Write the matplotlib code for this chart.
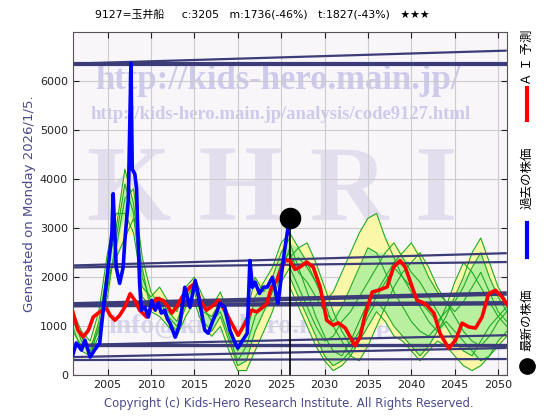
import numpy as np
import matplotlib
matplotlib.use("Agg")
import matplotlib.pyplot as plt
from matplotlib.lines import Line2D

# past price (blue)
past_x = [2001.0, 2001.4, 2002.0, 2002.4, 2003.0, 2003.5, 2004.1, 2004.5, 2005.0, 2005.5,
          2005.65, 2006.0, 2006.4, 2006.8, 2007.0, 2007.4, 2007.7, 2007.85, 2008.15, 2008.35,
          2008.5, 2008.7, 2008.9, 2009.3, 2009.7, 2010.1, 2010.5, 2010.85, 2011.2, 2011.6,
          2011.9, 2012.2, 2012.8, 2013.35, 2013.9, 2014.5, 2015.1, 2015.65, 2016.2, 2016.6,
          2017.15, 2017.6, 2017.95, 2018.5, 2018.8, 2019.1, 2019.6, 2020.0, 2020.5, 2021.1,
          2021.4, 2021.7, 2022.0, 2022.5, 2023.0, 2023.4, 2024.0, 2024.3, 2024.65, 2025.1,
          2025.45, 2025.8, 2026.0]
past_y = [415, 660, 517, 720, 375, 517, 660, 1330, 2080, 2890,
          3700, 2200, 1875, 2200, 2750, 3600, 6360, 4200, 4100, 3800,
          2890, 1875, 1330, 1390, 1190, 1530, 1330, 1470, 1270, 1330,
          1150, 1065, 780, 1065, 1795, 1390, 1935, 1470, 920, 860,
          1125, 1300, 1470, 1390, 1150, 920, 700, 560, 700, 860,
          2340, 1795, 1900, 1670, 1800, 1800, 2000, 1750, 1470, 2140,
          2610, 3010, 3050]

# AI forecast (red)
ai_x = [2001.0, 2001.6, 2002.2, 2002.8, 2003.35, 2004.1, 2004.9, 2005.3, 2005.85, 2006.4,
        2007.0, 2007.6, 2008.15, 2008.7, 2009.5, 2010.1, 2010.65, 2011.4, 2012.0, 2012.4,
        2012.95, 2013.7, 2014.5, 2015.1, 2015.65, 2016.4, 2017.2, 2017.75, 2018.5, 2019.3,
        2020.05, 2020.85, 2021.6, 2022.2, 2022.75, 2023.35, 2023.9, 2024.5, 2025.1, 2025.45,
        2026.0, 2026.6, 2027.1, 2027.95, 2028.7, 2029.5, 2030.25, 2031.0, 2031.6, 2032.4,
        2032.95, 2033.5, 2034.1, 2034.7, 2035.5, 2036.2, 2037.2, 2037.95, 2038.7, 2039.3,
        2040.1, 2040.65, 2041.2, 2041.8, 2042.6, 2043.3, 2044.3, 2045.1, 2045.85, 2046.6,
        2047.4, 2048.15, 2048.9, 2049.7, 2050.45, 2051.0]
ai_y = [1295, 920, 785, 920, 1190, 1295, 1360, 1225, 1125, 1225,
        1395, 1665, 1530, 1330, 1190, 1395, 1570, 1530, 1395, 1270,
        1395, 1630, 1800, 1875, 1530, 1330, 1430, 1530, 1330, 1060,
        820, 1060, 1330, 1295, 1370, 1465, 1800, 1935, 2205, 2340,
        2340, 2160, 2200, 2310, 2205, 1800, 1125, 1025, 1070, 965,
        785, 605, 785, 1260, 1700, 1735, 1800, 2205, 2340, 2205,
        1800, 1530, 1495, 1430, 1270, 860, 550, 720, 1065, 990,
        965, 1190, 1665, 1735, 1600, 1450]

latest_x, latest_y = 2026.0, 3205

# back-test simulation paths (green), yearly 2001..2026
hist_years = list(range(2001, 2027))
hist_paths = [
    [1200, 700, 500, 1100, 2200, 3000, 4200, 3500, 2000, 1500, 1600, 1300, 1100,
     1600, 1800, 1300, 1200, 1500, 1000, 500, 800, 1600, 1900, 2200, 2700, 2900],
    [1000, 500, 400, 800, 1800, 2600, 3600, 3800, 2400, 1700, 1400, 1100, 900,
     1400, 1700, 1100, 900, 1200, 700, 200, 300, 900, 1300, 1700, 2300, 2500],
    [1300, 900, 700, 1300, 2500, 3300, 3300, 2900, 1800, 1600, 1800, 1500, 1300,
     1800, 2000, 1600, 1400, 1700, 1200, 800, 1200, 2000, 1700, 2000, 2500, 2800],
    [900, 600, 600, 900, 2000, 2400, 2800, 3200, 2200, 1300, 1200, 1000, 800,
     1200, 1500, 1000, 800, 1000, 500, 100, 100, 500, 900, 1300, 1900, 2200],
    [1100, 800, 400, 1000, 1600, 2800, 3900, 3300, 1600, 1400, 1500, 1200, 1000,
     1500, 1900, 1400, 1100, 1300, 800, 300, 600, 1200, 1500, 1500, 2100, 2600],
]

# future simulation paths (green), yearly 2026..2051
fut_years = list(range(2026, 2052))
fut_paths = [
    [2900, 2600, 2300, 1900, 1500, 1700, 2100, 2500, 2900, 3200, 3300, 2800, 2400,
     2000, 1800, 1500, 1300, 1100, 1300, 1500, 1800, 2200, 2500, 2000, 1600, 1300],
    [2700, 2200, 1700, 1200, 800, 500, 400, 700, 1100, 1500, 1700, 2000, 2300,
     2500, 2700, 2400, 2000, 1700, 1500, 1200, 900, 700, 600, 800, 1100, 1300],
    [2400, 2600, 2700, 2300, 1800, 1300, 900, 600, 900, 1300, 1600, 1900, 2200,
     2000, 1700, 1400, 1100, 900, 1200, 1600, 2000, 2500, 2800, 2300, 1800, 1500],
    [2000, 1600, 1200, 800, 400, 200, 300, 500, 800, 1200, 1500, 1300, 1000,
     800, 600, 400, 600, 900, 1100, 900, 700, 500, 300, 400, 700, 900],
    [2500, 2100, 1900, 1600, 1300, 1100, 1400, 1800, 2200, 2600, 2500, 2100, 1700,
     1400, 1100, 900, 800, 1000, 1400, 1900, 2300, 2100, 1800, 1500, 1200, 1000],
    [2200, 1800, 1400, 1000, 700, 800, 1100, 1300, 1600, 1900, 2200, 2500, 2700,
     2400, 2100, 1900, 1600, 1300, 1000, 700, 500, 400, 700, 1000, 1200, 1400],
    [2300, 2400, 2200, 1900, 1500, 1000, 700, 400, 300, 600, 1000, 1400, 1800,
     2100, 2300, 2500, 2200, 1800, 1500, 1300, 1500, 1800, 2100, 1700, 1300, 1100],
    [1800, 1400, 1000, 600, 300, 100, 200, 400, 700, 1000, 1300, 1100, 800,
     700, 500, 300, 500, 700, 600, 400, 200, 100, 200, 400, 600, 800],
]

# support / resistance lines: value at 2001 and at 2051
trend_left = [6350, 6350, 2240, 2200, 1450, 1430, 620, 620, 375, 315]
trend_right = [6350, 6615, 2490, 2310, 1670, 1470, 820, 620, 560, 335]
trend_width = [3.0, 1.6, 1.6, 1.6, 3.2, 3.2, 1.6, 2.4, 1.6, 1.6]

title = "9127=玉井船     c:3205   m:1736(-46%)   t:1827(-43%)   ★★★"
x_ticks = [2005, 2010, 2015, 2020, 2025, 2030, 2035, 2040, 2045, 2050]
y_ticks = [0, 1000, 2000, 3000, 4000, 5000, 6000]

fig = plt.figure(figsize=(5.6, 4.2), dpi=100)
ax = fig.add_axes([0.130, 0.106, 0.775, 0.8185])
ax.set_facecolor("#f9f6fa")
ax.set_xlim(2001, 2051)
ax.set_ylim(0, 7000)

# watermarks
wm = "#cdcaec"
ax.text(2003.6, 6000, "http://kids-hero.main.jp/", family="Liberation Serif",
        weight="bold", fontsize=25, color=wm, va="center", zorder=0)
ax.text(2003.0, 5320, "http://kids-hero.main.jp/analysis/code9127.html",
        family="Liberation Serif", weight="bold", fontsize=13.4, color=wm,
        va="center", zorder=0)
ax.text(2024, 3700, "K H R I", family="Liberation Serif", weight="bold",
        fontsize=78, color="#e2deee", ha="center", va="center", zorder=0)
ax.text(2005.1, 1000, "info@kids-hero.main.jp", family="Liberation Serif",
        weight="bold", fontsize=20, color="#d6d3ee", va="center", zorder=0)

ax.grid(True, color="#cccccc", lw=0.8, zorder=0.5)
ax.set_axisbelow(True)

for years, paths in ((hist_years, hist_paths), (fut_years, fut_paths)):
    arr = np.array(paths, dtype=float)
    srt = np.sort(arr, axis=0)
    ax.fill_between(years, srt[0], srt[-1], color="#fbf7a8", lw=0, zorder=1)
    ax.fill_between(years, srt[1], srt[-2], color="#b8f0a0", lw=0, zorder=1.1)
    for p in paths:
        ax.plot(years, p, color="#22aa22", lw=0.8, zorder=1.5)

for yl, yr, w in zip(trend_left, trend_right, trend_width):
    ax.plot([2001, 2051], [yl, yr], color="#3c3c78", lw=w, zorder=2,
            solid_capstyle="butt")

ax.plot([latest_x, latest_x], [0, latest_y], color="black", lw=1.2, zorder=3)
ax.plot(ai_x, ai_y, color="#ff0000", lw=2.6, zorder=4)
ax.plot(past_x, past_y, color="#0000ff", lw=2.6, zorder=5)
ax.plot([latest_x], [latest_y], "o", color="black", ms=14.5, zorder=6)

ax.set_xticks(x_ticks)
ax.set_yticks(y_ticks)
ax.tick_params(direction="in", length=4, top=True, right=True, labelsize=8,
               colors="#222222")
for s in ax.spines.values():
    s.set_color("#555555")
    s.set_linewidth(0.8)

fam = ["DejaVu Sans", "Noto Sans CJK JP"]
fig.text(0.468, 0.966, title, ha="center", va="center", fontsize=7.8, family=fam)
fig.text(0.052, 0.515, "Generated on Monday 2026/1/5.", rotation=90,
         ha="center", va="center", fontsize=9.5, color="#4a4a8c")
fig.text(0.516, 0.040, "Copyright (c) Kids-Hero Research Institute. All Rights Reserved.",
         ha="center", va="center", fontsize=8.4, color="#4a4a8c")

# legend on the right side
cjk = ["Noto Sans CJK JP", "DejaVu Sans"]
lx = 0.941
fig.text(lx, 0.864, "Ａ Ｉ 予測", rotation=90, ha="center", va="center",
         fontsize=9, family=cjk)
fig.add_artist(Line2D([lx, lx], [0.714, 0.790], color="#ff0000", lw=3))
fig.text(lx, 0.576, "過去の株価", rotation=90, ha="center", va="center",
         fontsize=9, family=cjk)
fig.add_artist(Line2D([lx, lx], [0.388, 0.469], color="#0000ff", lw=3))
fig.text(lx, 0.238, "最新の株価", rotation=90, ha="center", va="center",
         fontsize=9, family=cjk)
fig.add_artist(Line2D([lx], [0.129], marker="o", color="black", ms=11))

fig.savefig("out.png", dpi=100)
